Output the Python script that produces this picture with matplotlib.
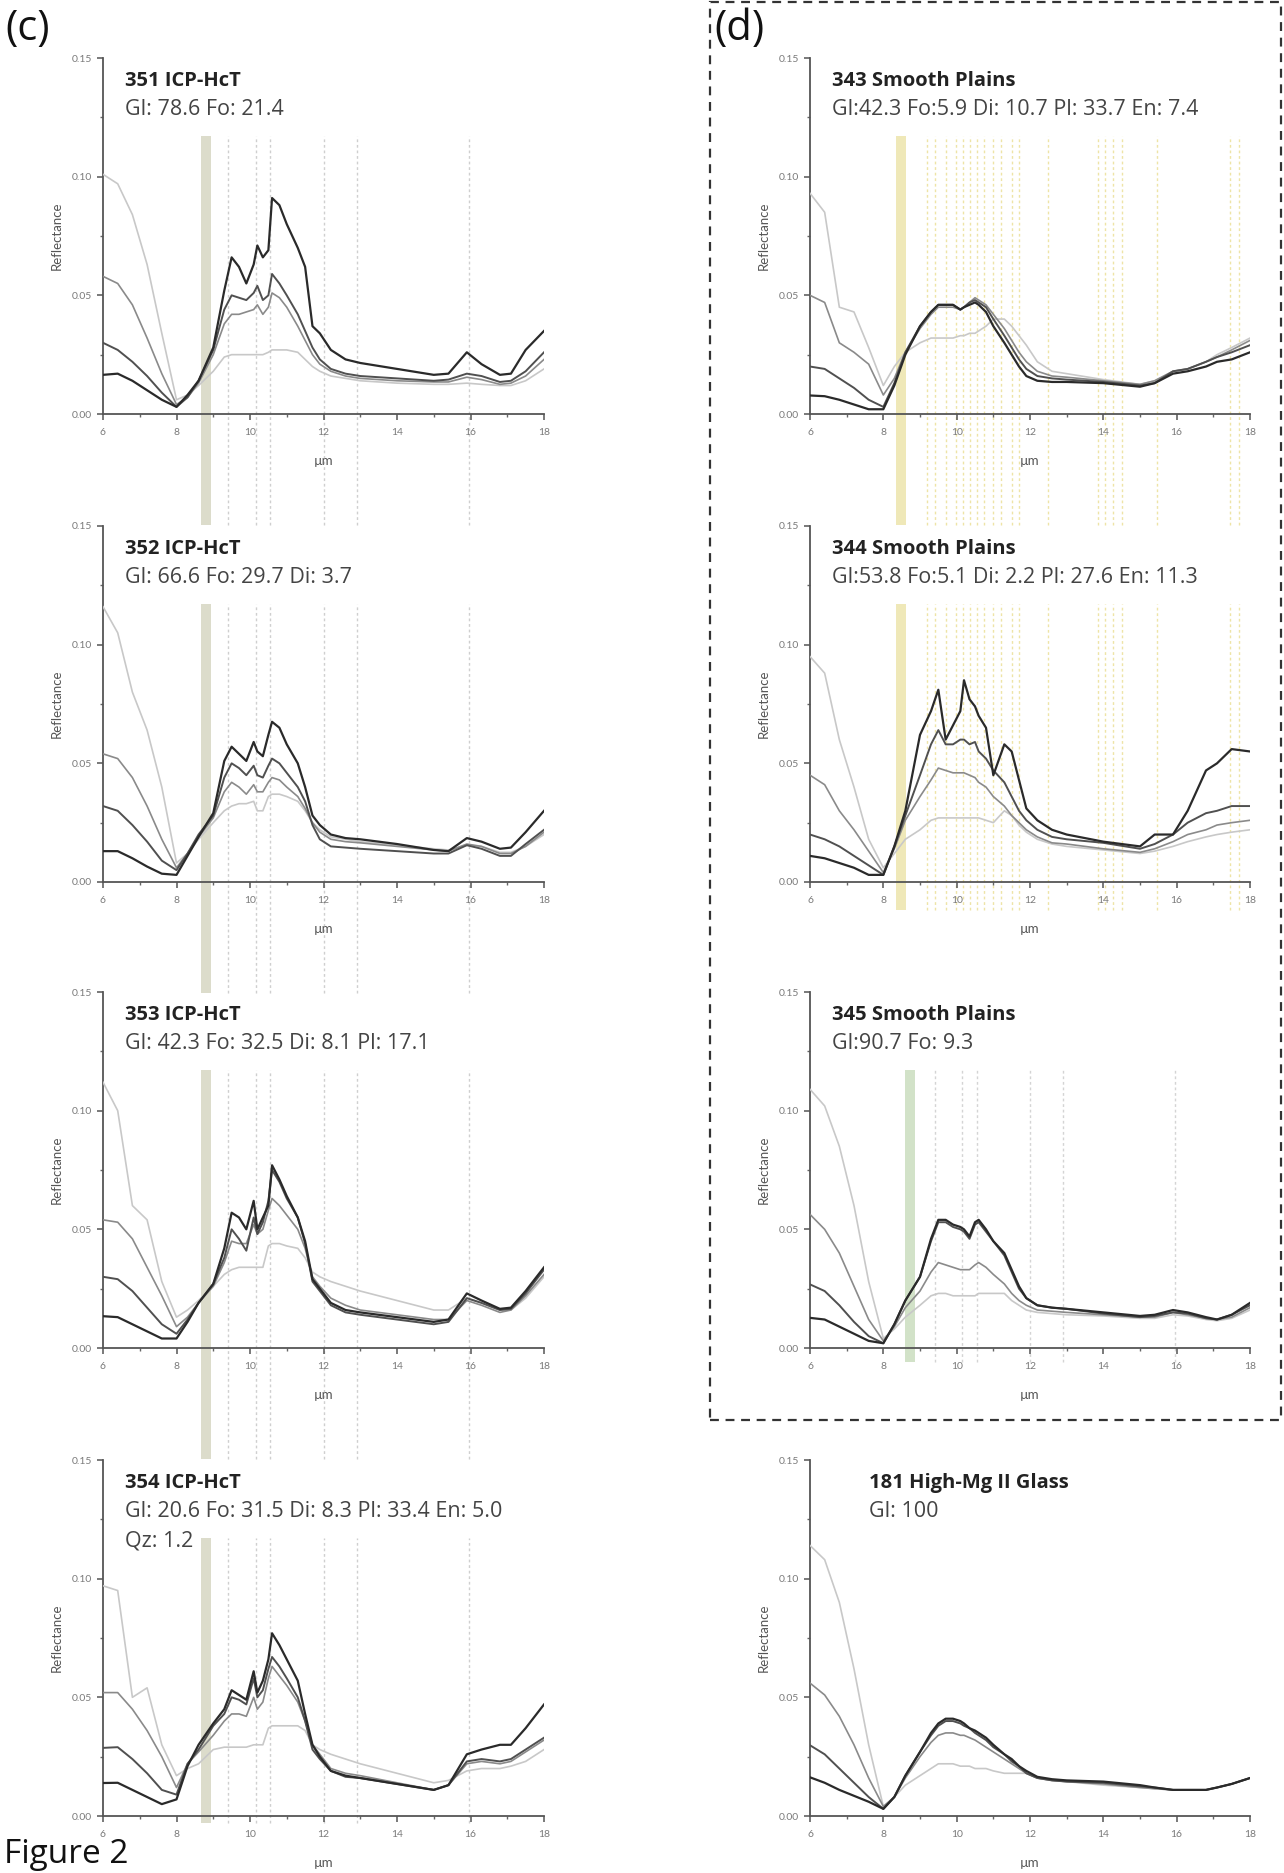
import matplotlib.pyplot as plt
from matplotlib.patches import Rectangle
from matplotlib.ticker import MultipleLocator

plt.rcParams["font.family"] = ["Lato", "DejaVu Sans"]

# wavelength grid (µm) shared by every spectrum
WL = [6.0, 6.4, 6.8, 7.2, 7.6, 8.0, 8.3, 8.6, 9.0, 9.3, 9.5, 9.7, 9.9,
      10.1, 10.2, 10.35, 10.5, 10.6, 10.8, 11.0, 11.3, 11.5, 11.7, 11.9,
      12.2, 12.6, 13.0, 14.0, 15.0, 15.4, 15.9, 16.3, 16.8, 17.1, 17.5, 18.0]

# each panel: 4 spectra, coarsest (darkest) to finest (lightest)
P351 = [
    [.0165, .017, .014, .010, .006, .003, .008, .014, .028, .052, .066, .062, .055, .063, .071, .066, .069, .091,
     .088, .080, .070, .062, .037, .034, .027, .023, .0215, .019, .0165, .017, .026, .021, .0165, .017, .027, .035],
    [.030, .027, .022, .016, .009, .003, .007, .014, .027, .044, .050, .049, .048, .051, .054, .048, .050, .059,
     .055, .050, .042, .035, .028, .023, .019, .017, .016, .015, .014, .0145, .017, .016, .0135, .014, .018, .026],
    [.058, .055, .046, .032, .017, .004, .007, .013, .025, .038, .042, .042, .043, .044, .046, .042, .045, .051,
     .049, .045, .037, .031, .025, .021, .018, .016, .015, .014, .0135, .0135, .0155, .0145, .0125, .013, .016, .023],
    [.101, .097, .084, .063, .034, .006, .008, .012, .018, .024, .025, .025, .025, .025, .025, .025, .026, .027,
     .027, .027, .026, .023, .020, .018, .016, .015, .014, .013, .0125, .0125, .013, .0125, .012, .012, .014, .019],
]
P352 = [
    [.013, .013, .010, .0065, .0035, .003, .011, .019, .029, .051, .057, .054, .051, .059, .055, .053, .062, .0675,
     .065, .058, .050, .040, .028, .024, .020, .0185, .018, .016, .0135, .013, .0185, .017, .014, .0145, .021, .030],
    [.032, .030, .024, .017, .009, .005, .012, .020, .028, .044, .050, .048, .045, .049, .045, .044, .049, .052,
     .050, .046, .040, .034, .024, .018, .015, .0145, .014, .013, .012, .012, .0155, .014, .011, .011, .016, .022],
    [.054, .052, .044, .032, .018, .006, .012, .019, .027, .038, .042, .040, .037, .041, .038, .038, .042, .044,
     .043, .040, .036, .031, .025, .021, .018, .017, .0165, .015, .0135, .013, .016, .015, .012, .012, .015, .021],
    [.116, .105, .080, .064, .040, .008, .012, .018, .025, .030, .032, .033, .033, .034, .030, .030, .036, .037,
     .037, .036, .034, .030, .025, .022, .019, .018, .017, .0155, .014, .0135, .0155, .015, .0125, .0125, .015, .020],
]
P353 = [
    [.0134, .013, .010, .007, .004, .004, .011, .019, .027, .042, .057, .055, .050, .062, .050, .055, .060, .077,
     .071, .064, .055, .045, .029, .025, .019, .016, .015, .013, .011, .012, .023, .020, .0165, .017, .024, .034],
    [.030, .029, .024, .017, .010, .006, .012, .019, .027, .038, .050, .046, .041, .055, .048, .053, .062, .075,
     .070, .063, .055, .044, .028, .024, .018, .015, .014, .012, .010, .011, .021, .019, .016, .0165, .023, .033],
    [.054, .053, .046, .034, .022, .009, .013, .019, .026, .036, .045, .044, .044, .052, .048, .050, .058, .063,
     .060, .056, .050, .042, .030, .026, .021, .018, .016, .014, .012, .012, .020, .018, .015, .016, .022, .031],
    [.112, .100, .060, .054, .028, .013, .016, .020, .026, .031, .033, .034, .034, .034, .034, .034, .043, .044,
     .044, .043, .042, .038, .032, .030, .028, .026, .024, .020, .016, .016, .021, .019, .016, .016, .021, .030],
]
P354 = [
    [.0139, .014, .011, .008, .005, .007, .021, .030, .039, .045, .053, .051, .049, .061, .052, .057, .066, .077,
     .072, .066, .057, .043, .030, .025, .019, .017, .016, .0135, .011, .013, .026, .028, .030, .030, .037, .047],
    [.0287, .029, .024, .018, .011, .009, .022, .028, .038, .043, .050, .049, .047, .058, .050, .053, .062, .067,
     .063, .058, .050, .040, .028, .024, .019, .0165, .016, .0135, .011, .013, .023, .024, .023, .024, .028, .033],
    [.052, .052, .045, .036, .025, .012, .022, .027, .034, .040, .043, .043, .042, .050, .045, .048, .058, .063,
     .059, .055, .048, .040, .030, .026, .020, .018, .017, .014, .011, .013, .022, .023, .022, .023, .027, .032],
    [.097, .095, .050, .054, .030, .017, .020, .022, .028, .029, .029, .029, .029, .030, .030, .030, .037, .038,
     .038, .038, .038, .036, .030, .028, .026, .024, .022, .018, .014, .015, .019, .020, .020, .021, .023, .028],
]
P343 = [
    [.0078, .0075, .006, .004, .002, .002, .012, .025, .037, .043, .046, .046, .046, .044, .045, .046, .047, .046,
     .043, .037, .030, .025, .020, .016, .014, .0135, .0135, .013, .0115, .013, .017, .018, .020, .022, .023, .026],
    [.020, .019, .015, .011, .006, .003, .013, .026, .037, .043, .046, .046, .046, .044, .045, .047, .048, .047,
     .045, .040, .033, .028, .023, .019, .016, .015, .0145, .0135, .012, .013, .018, .019, .022, .024, .026, .029],
    [.050, .047, .030, .026, .021, .008, .015, .026, .036, .042, .045, .045, .045, .044, .045, .047, .049, .048,
     .046, .042, .036, .031, .026, .022, .018, .016, .0155, .014, .0125, .014, .018, .019, .022, .024, .027, .031],
    [.093, .085, .045, .043, .028, .012, .020, .026, .030, .032, .032, .032, .032, .033, .033, .034, .034, .035,
     .037, .040, .040, .037, .033, .029, .022, .018, .017, .0145, .0125, .014, .018, .019, .022, .025, .028, .032],
]
P344 = [
    [.011, .010, .008, .006, .003, .003, .015, .030, .062, .072, .081, .060, .066, .072, .085, .077, .074, .070,
     .065, .045, .058, .055, .043, .031, .026, .022, .020, .017, .015, .020, .020, .030, .047, .050, .056, .055],
    [.020, .018, .015, .011, .007, .003, .015, .028, .045, .058, .064, .058, .058, .060, .060, .058, .059, .055,
     .052, .047, .042, .036, .030, .026, .022, .019, .018, .0165, .014, .016, .020, .025, .029, .030, .032, .032],
    [.045, .041, .030, .022, .013, .004, .014, .026, .036, .043, .048, .047, .046, .046, .046, .045, .044, .042,
     .040, .036, .032, .028, .025, .022, .019, .0165, .016, .014, .0125, .014, .017, .020, .022, .024, .025, .026],
    [.095, .088, .060, .040, .018, .006, .012, .018, .022, .026, .027, .027, .027, .027, .027, .027, .027, .027,
     .026, .025, .030, .028, .024, .021, .018, .016, .015, .0135, .012, .013, .015, .017, .019, .020, .021, .022],
]
P345 = [
    [.0127, .012, .009, .006, .003, .002, .010, .020, .030, .046, .054, .054, .052, .051, .050, .047, .053, .054,
     .050, .045, .040, .033, .026, .021, .018, .017, .0165, .015, .0135, .014, .016, .015, .013, .012, .014, .019],
    [.0268, .024, .018, .011, .005, .002, .010, .020, .030, .045, .053, .053, .051, .050, .049, .046, .052, .053,
     .049, .045, .039, .032, .025, .021, .018, .017, .0165, .0145, .013, .0135, .015, .0145, .0125, .012, .014, .018],
    [.0563, .050, .040, .026, .012, .003, .009, .017, .024, .032, .036, .035, .034, .033, .033, .033, .035, .036,
     .034, .031, .027, .023, .020, .018, .016, .0155, .015, .014, .013, .013, .015, .014, .0125, .012, .013, .017],
    [.109, .102, .085, .060, .028, .004, .008, .013, .018, .022, .023, .023, .022, .022, .022, .022, .022, .023,
     .023, .023, .023, .020, .018, .016, .015, .0145, .014, .0135, .0125, .0125, .014, .0135, .012, .0115, .0125, .016],
]
P181 = [
    [.0163, .014, .011, .0085, .006, .003, .008, .017, .027, .035, .039, .041, .041, .040, .039, .037, .036, .035,
     .033, .030, .026, .024, .021, .019, .0165, .0155, .015, .0145, .013, .012, .011, .011, .011, .012, .0135, .016],
    [.0298, .026, .020, .014, .008, .003, .008, .017, .027, .034, .038, .040, .040, .039, .038, .037, .035, .034,
     .032, .029, .026, .023, .021, .018, .016, .015, .0145, .014, .0125, .012, .011, .011, .011, .012, .0135, .016],
    [.056, .051, .042, .030, .016, .004, .008, .016, .025, .031, .034, .035, .035, .034, .034, .033, .032, .031,
     .029, .027, .024, .022, .020, .018, .016, .015, .0145, .0135, .012, .0115, .011, .011, .011, .012, .0135, .016],
    [.114, .108, .090, .062, .030, .004, .008, .013, .017, .020, .022, .022, .022, .021, .021, .021, .020, .020,
     .020, .019, .018, .018, .018, .018, .016, .015, .0145, .013, .012, .0115, .011, .011, .011, .012, .0135, .016],
]

TITLES_C = ["351 ICP-HcT", "352 ICP-HcT", "353 ICP-HcT", "354 ICP-HcT"]
COMPS_C = [["Gl: 78.6 Fo: 21.4"], ["Gl: 66.6 Fo: 29.7 Di: 3.7"],
           ["Gl: 42.3 Fo: 32.5 Di: 8.1 Pl: 17.1"],
           ["Gl: 20.6 Fo: 31.5 Di: 8.3 Pl: 33.4 En: 5.0", "Qz: 1.2"]]
TITLES_D = ["343 Smooth Plains", "344 Smooth Plains", "345 Smooth Plains", "181 High-Mg II Glass"]
COMPS_D = [["Gl:42.3 Fo:5.9 Di: 10.7 Pl: 33.7 En: 7.4"],
           ["Gl:53.8 Fo:5.1 Di: 2.2 Pl: 27.6 En: 11.3"],
           ["Gl:90.7 Fo: 9.3"], ["Gl: 100"]]

# band positions (µm) marked on the panels
BAND_C = (8.68, 8.95)
LINES_C = [9.4, 10.15, 10.55, 12.0, 12.9, 15.95]
BAND_D = (8.35, 8.62)
LINES_D = [9.2, 9.4, 9.7, 9.97, 10.16, 10.36, 10.55, 10.75, 11.0, 11.2, 11.5, 11.7,
           12.5, 13.85, 14.05, 14.25, 14.5, 15.45, 17.45, 17.7]
BAND_E = (8.58, 8.87)

LINE_COLORS = ["#2a2a2a", "#505050", "#8a8a8a", "#c8c8c8"]
LINE_WIDTHS = [1.6, 1.4, 1.2, 1.2]

W, H = 1284, 1873
fig = plt.figure(figsize=(W / 100, H / 100), dpi=100)

ROW_BOTTOMS = [414, 882, 1348, 1816]  # pixel rows of the y=0 axis
AX_H = 356
COL_X = {"c": (103, 441), "d": (810, 440)}
GAP = -0.312  # reach down to the top of the next panel
TXT_FONT = ["Open Sans", "DejaVu Sans"]


def add_axes(col, row):
    x0, w = COL_X[col]
    bottom = ROW_BOTTOMS[row]
    ax = fig.add_axes([x0 / W, 1 - bottom / H, w / W, AX_H / H])
    ax.set_facecolor("none")
    return ax


def mark_bands(ax, band, band_color, lines, line_color, ybot, ytop=0.78):
    ax.axvspan(*band, ymin=ybot, ymax=ytop, color=band_color, lw=0,
               clip_on=False, zorder=0)
    for x in lines:
        ax.axvline(x, ymin=ybot, ymax=ytop, color=line_color, lw=1.0,
                   ls=(0, (2, 2)), clip_on=False, zorder=0)


def draw_panel(ax, spectra, title, comp_lines, tx=6.6):
    for vals, c, lw in reversed(list(zip(spectra, LINE_COLORS, LINE_WIDTHS))):
        ax.plot(WL, vals, color=c, lw=lw, zorder=3)
    ax.set_xlim(6, 18)
    ax.set_ylim(0, 0.15)
    ax.xaxis.set_major_locator(MultipleLocator(2))
    ax.xaxis.set_minor_locator(MultipleLocator(1))
    ax.yaxis.set_major_locator(MultipleLocator(0.05))
    ax.yaxis.set_minor_locator(MultipleLocator(0.025))
    ax.yaxis.set_major_formatter(lambda v, p: f"{v:.2f}")
    for s in ("top", "right"):
        ax.spines[s].set_visible(False)
    for s in ("left", "bottom"):
        ax.spines[s].set_color("#555555")
        ax.spines[s].set_linewidth(1.3)
    ax.tick_params(which="major", direction="out", length=4, width=1.1,
                   color="#555555", labelsize=7.5, labelcolor="#7a7a7a")
    ax.tick_params(which="minor", direction="out", length=2.5, width=1,
                   color="#666666")
    ax.tick_params(axis="x", pad=6)
    ax.tick_params(axis="y", pad=4)
    ax.set_ylabel("Reflectance", fontsize=9.5, color="#555555", labelpad=6)
    ax.set_xlabel("µm", fontsize=9.5, color="#555555", labelpad=13)
    ax.text(tx, 0.1405, title, fontsize=14.5, fontweight="bold",
            family=TXT_FONT, color="#222222", va="center", zorder=5)
    for i, line in enumerate(comp_lines):
        ax.text(tx, 0.1285 - i * 0.0126, line, fontsize=15.5, family=TXT_FONT,
                color="#444444", va="center", zorder=5)


panels_c = [P351, P352, P353, P354]
for row, spectra in enumerate(panels_c):
    ax = add_axes("c", row)
    ybot = GAP if row < 3 else -0.02
    mark_bands(ax, BAND_C, "#dcdccb", LINES_C, "#cfcfcf", ybot)
    draw_panel(ax, spectra, TITLES_C[row], COMPS_C[row])

panels_d = [P343, P344, P345, P181]
for row, spectra in enumerate(panels_d):
    ax = add_axes("d", row)
    if row == 0:
        mark_bands(ax, BAND_D, "#efe8b8", LINES_D, "#eee4a6", GAP)
    elif row == 1:
        mark_bands(ax, BAND_D, "#efe8b8", LINES_D, "#eee4a6", -0.08)
    elif row == 2:
        mark_bands(ax, BAND_E, "#d2e2c8", LINES_C, "#d4d4d4", -0.04)
    tx = 7.6 if row == 3 else 6.6
    draw_panel(ax, spectra, TITLES_D[row], COMPS_D[row], tx)

# dashed frame around group (d)
fig.patches.append(Rectangle((710 / W, 1 - 1420 / H), (1281 - 710) / W,
                             (1420 - 2) / H, transform=fig.transFigure,
                             fill=False, ec="#333333", lw=1.6,
                             ls=(0, (4, 3))))

fig.text(5 / W, 1 - 8 / H, "(c)", fontsize=30, va="top", family=TXT_FONT,
         color="#111111")
fig.text(714 / W, 1 - 8 / H, "(d)", fontsize=30, va="top", family=TXT_FONT,
         color="#111111")
fig.text(4 / W, 2 / H, "Figure 2", fontsize=24, va="bottom", family=TXT_FONT,
         color="#111111")

fig.savefig("out.png", dpi=100)
